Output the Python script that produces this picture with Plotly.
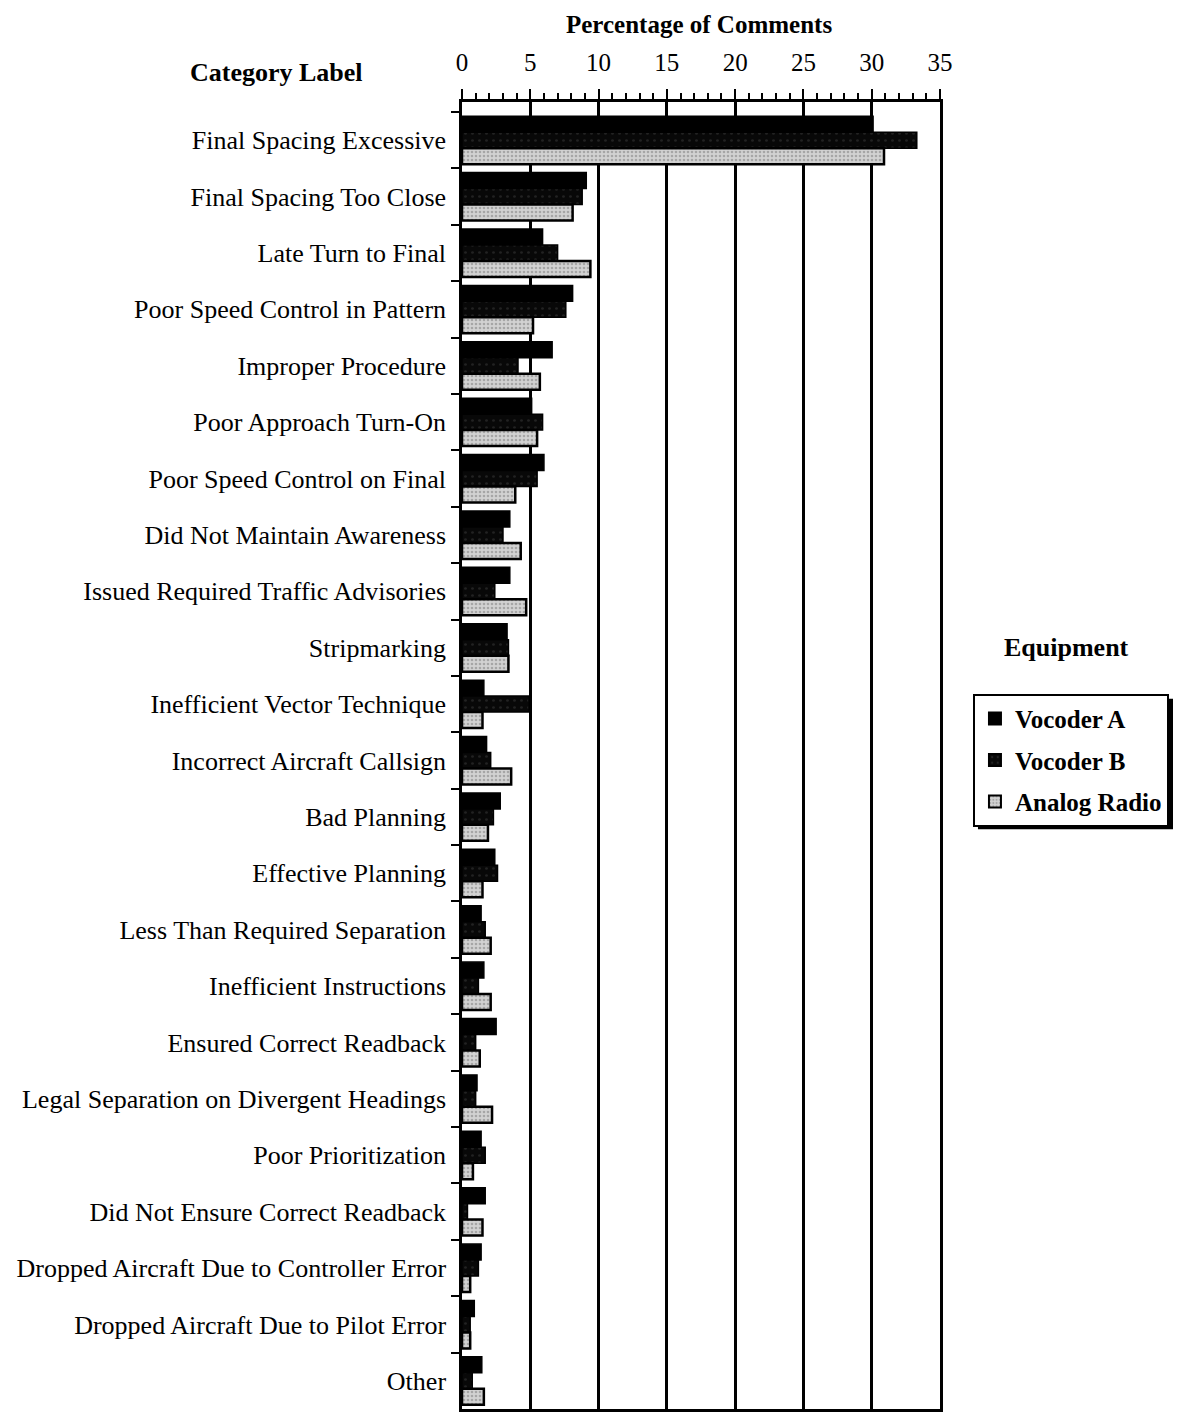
import plotly.graph_objects as go

categories = [
    "Final Spacing Excessive", "Final Spacing Too Close", "Late Turn to Final",
    "Poor Speed Control in Pattern", "Improper Procedure", "Poor Approach Turn-On",
    "Poor Speed Control on Final", "Did Not Maintain Awareness",
    "Issued Required Traffic Advisories", "Stripmarking", "Inefficient Vector Technique",
    "Incorrect Aircraft Callsign", "Bad Planning", "Effective Planning",
    "Less Than Required Separation", "Inefficient Instructions", "Ensured Correct Readback",
    "Legal Separation on Divergent Headings", "Poor Prioritization",
    "Did Not Ensure Correct Readback", "Dropped Aircraft Due to Controller Error",
    "Dropped Aircraft Due to Pilot Error", "Other",
]
vocoder_a = [30.1, 9.1, 5.9, 8.1, 6.6, 5.1, 6.0, 3.5, 3.5, 3.3, 1.6, 1.8, 2.8, 2.4,
             1.4, 1.6, 2.5, 1.1, 1.4, 1.7, 1.4, 0.9, 1.45]
vocoder_b = [33.3, 8.8, 7.0, 7.6, 4.1, 5.9, 5.5, 3.0, 2.4, 3.4, 4.9, 2.1, 2.3, 2.6,
             1.7, 1.2, 1.0, 1.0, 1.7, 0.4, 1.2, 0.6, 0.75]
analog_radio = [30.9, 8.1, 9.4, 5.2, 5.7, 5.5, 3.9, 4.3, 4.7, 3.4, 1.5, 3.6, 1.9, 1.5,
                2.1, 2.1, 1.3, 2.2, 0.8, 1.5, 0.6, 0.6, 1.6]
x_ticks = [0, 5, 10, 15, 20, 25, 30, 35]

FONT = "Liberation Serif"
OFF = 8  # page body margin
W, H = 1181 - OFF, 1414 - OFF

# target screen positions of the plot area
left, right, top, bottom = 461.5 - OFF, 940 - OFF, 102 - OFF, 1412 - OFF
pw, ph = right - left, bottom - top


def px(X):
    return (X - OFF - left) / pw


def py(Y):
    return 1 - (Y - OFF - top) / ph


fig = go.Figure()
fig.add_trace(go.Bar(
    y=categories, x=vocoder_a, orientation="h", name="Vocoder A", legendgroup="a",
    marker=dict(color="#000000", line=dict(color="#000000", width=1.5)),
))
fig.add_trace(go.Bar(
    y=categories, x=vocoder_b, orientation="h", name="Vocoder B", legendgroup="b",
    marker=dict(color="#080808", line=dict(color="#000000", width=1.5),
                pattern=dict(shape=".", fgcolor="#3c3c3c", bgcolor="#080808",
                             size=7, solidity=0.12)),
))
fig.add_trace(go.Bar(
    y=categories, x=analog_radio, orientation="h", name="Analog Radio", legendgroup="c",
    marker=dict(color="#cccccc", line=dict(color="#000000", width=2.5),
                pattern=dict(shape=".", fgcolor="#7a7a7a", bgcolor="#d2d2d2",
                             size=4, solidity=0.35)),
))

n = len(categories)
step = (1412 - 112) / n
y_top = (n - 0.5) - (1412 - 102) / step

# legend box (screen px) and its drop shadow
LEG_L, LEG_T, LEG_R, LEG_B = 973, 695, 1169, 826
SH = 5

fig.update_layout(
    width=W, height=H,
    margin=dict(l=left, r=W - right, t=top, b=H - bottom, pad=0),
    paper_bgcolor="white", plot_bgcolor="white",
    barmode="group", bargap=0.15, bargroupgap=0.0,
    font=dict(family=FONT, size=26, color="black"),
    showlegend=True,
    legend=dict(
        x=px(LEG_L), y=py(LEG_T), xanchor="left", yanchor="top",
        bordercolor="black", borderwidth=2, bgcolor="white",
        font=dict(family=FONT, size=25, color="black", weight="bold"),
        traceorder="grouped", tracegroupgap=6, itemsizing="constant",
    ),
    xaxis=dict(
        side="top", range=[0, 35], tickvals=x_ticks,
        ticks="outside", ticklen=10, tickwidth=2, tickcolor="black",
        ticklabelstandoff=8,
        showline=True, linewidth=2.5, linecolor="black", mirror=True,
        showgrid=True, gridcolor="black", gridwidth=2.5, zeroline=False,
        minor=dict(dtick=1, ticks="outside", ticklen=6, tickwidth=2,
                   tickcolor="black", showgrid=False),
        tickfont=dict(family=FONT, size=25, color="black"),
    ),
    yaxis=dict(
        type="category", categoryorder="array", categoryarray=categories,
        range=[n - 0.5, y_top],
        tickson="boundaries", ticks="outside", ticklen=8, tickwidth=2,
        tickcolor="black", ticklabelstandoff=8,
        showline=True, linewidth=2.5, linecolor="black",
        mirror=True, showgrid=False,
        tickfont=dict(family=FONT, size=26, color="black"),
    ),
    shapes=[
        dict(type="rect", xref="paper", yref="paper", layer="above",
             x0=px(LEG_L + SH), x1=px(LEG_R + SH), y0=py(LEG_B + SH), y1=py(LEG_T + SH),
             fillcolor="black", line=dict(width=0)),
    ],
    annotations=[
        dict(text="<b>Percentage of Comments</b>", x=px(699), y=py(OFF + 1),
             xref="paper", yref="paper", showarrow=False,
             xanchor="center", yanchor="top",
             font=dict(family=FONT, size=25, color="black")),
        dict(text="<b>Category Label</b>", x=px(276), y=py(72),
             xref="paper", yref="paper", showarrow=False,
             xanchor="center", yanchor="middle",
             font=dict(family=FONT, size=26, color="black")),
        dict(text="<b>Equipment</b>", x=px(1067), y=py(649),
             xref="paper", yref="paper", showarrow=False,
             xanchor="center", yanchor="middle",
             font=dict(family=FONT, size=26, color="black")),
    ],
)

fig.write_html("out.html")
